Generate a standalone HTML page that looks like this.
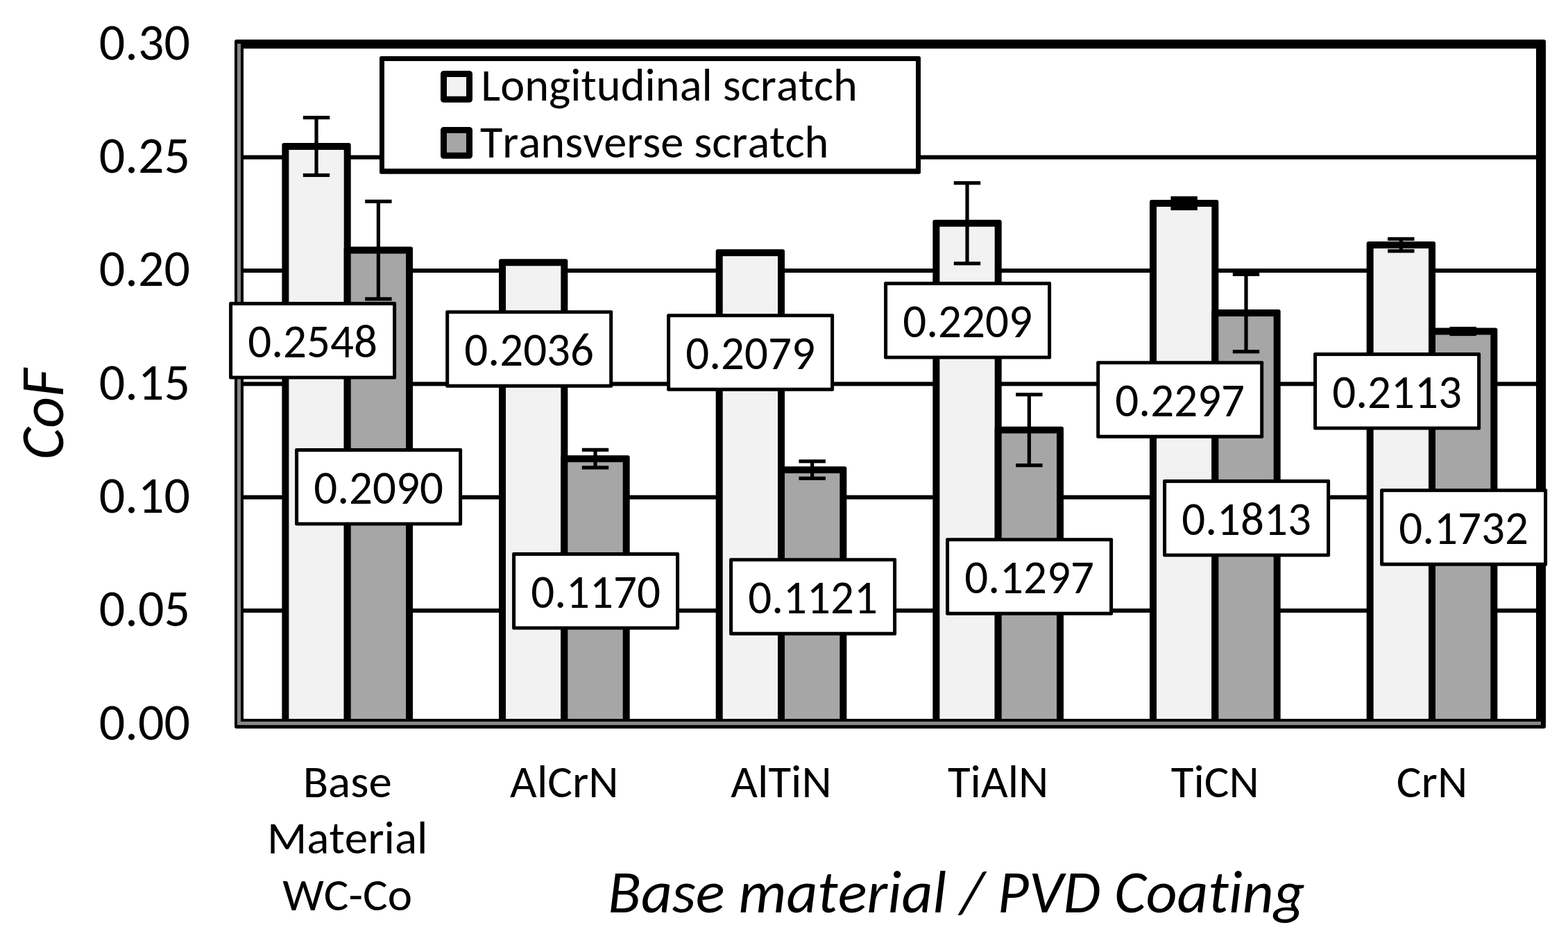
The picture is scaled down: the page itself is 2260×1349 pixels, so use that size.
<!DOCTYPE html><html><head><meta charset="utf-8"><title>CoF chart</title><style>html,body{margin:0;padding:0;background:#fff;}svg{display:block;}text{font-family:Carlito,"Liberation Sans",sans-serif;fill:#000;font-variant-ligatures:none;font-feature-settings:"liga" 0,"clig" 0,"dlig" 0;font-kerning:none;}</style></head><body>
<svg width="2260" height="1349" viewBox="0 0 2260 1349">
<rect x="0" y="0" width="2260" height="1349" fill="#fff"/>
<rect x="345" y="877.00" width="1876" height="6" fill="#000"/>
<rect x="345" y="713.66" width="1876" height="6" fill="#000"/>
<rect x="345" y="550.33" width="1876" height="6" fill="#000"/>
<rect x="345" y="387.00" width="1876" height="6" fill="#000"/>
<rect x="345" y="223.66" width="1876" height="6" fill="#000"/>
<rect x="406.37" y="205.98" width="99.33" height="842.35" rx="3" fill="#000"/>
<rect x="416.37" y="215.98" width="79.33" height="822.35" fill="#f2f2f2"/>
<rect x="495.70" y="355.60" width="99.33" height="692.73" rx="3" fill="#000"/>
<rect x="505.70" y="365.60" width="79.33" height="672.73" fill="#a6a6a6"/>
<rect x="719.03" y="373.24" width="99.33" height="675.09" rx="3" fill="#000"/>
<rect x="729.03" y="383.24" width="79.33" height="655.09" fill="#f2f2f2"/>
<rect x="808.36" y="656.13" width="99.33" height="392.20" rx="3" fill="#000"/>
<rect x="818.36" y="666.13" width="79.33" height="372.20" fill="#a6a6a6"/>
<rect x="1031.69" y="359.19" width="99.33" height="689.14" rx="3" fill="#000"/>
<rect x="1041.69" y="369.19" width="79.33" height="669.14" fill="#f2f2f2"/>
<rect x="1121.02" y="672.14" width="99.33" height="376.19" rx="3" fill="#000"/>
<rect x="1131.02" y="682.14" width="79.33" height="356.19" fill="#a6a6a6"/>
<rect x="1344.35" y="316.72" width="99.33" height="731.61" rx="3" fill="#000"/>
<rect x="1354.35" y="326.72" width="79.33" height="711.61" fill="#f2f2f2"/>
<rect x="1433.68" y="614.64" width="99.33" height="433.69" rx="3" fill="#000"/>
<rect x="1443.68" y="624.64" width="79.33" height="413.69" fill="#a6a6a6"/>
<rect x="1657.01" y="287.98" width="99.33" height="760.35" rx="3" fill="#000"/>
<rect x="1667.01" y="297.98" width="79.33" height="740.35" fill="#f2f2f2"/>
<rect x="1746.34" y="446.08" width="99.33" height="602.25" rx="3" fill="#000"/>
<rect x="1756.34" y="456.08" width="79.33" height="582.25" fill="#a6a6a6"/>
<rect x="1969.67" y="348.08" width="99.33" height="700.25" rx="3" fill="#000"/>
<rect x="1979.67" y="358.08" width="79.33" height="680.25" fill="#f2f2f2"/>
<rect x="2059.00" y="472.54" width="99.33" height="575.79" rx="3" fill="#000"/>
<rect x="2069.00" y="482.54" width="79.33" height="555.79" fill="#a6a6a6"/>
<rect x="453.43" y="169.48" width="5.2" height="83.00" fill="#000"/>
<rect x="436.83" y="166.88" width="38.4" height="5.2" fill="#000"/>
<rect x="436.83" y="249.88" width="38.4" height="5.2" fill="#000"/>
<rect x="542.77" y="290.30" width="5.2" height="140.60" fill="#000"/>
<rect x="526.17" y="287.70" width="38.4" height="5.2" fill="#000"/>
<rect x="526.17" y="428.30" width="38.4" height="5.2" fill="#000"/>
<rect x="855.43" y="648.33" width="5.2" height="25.60" fill="#000"/>
<rect x="838.83" y="645.73" width="38.4" height="5.2" fill="#000"/>
<rect x="838.83" y="671.33" width="38.4" height="5.2" fill="#000"/>
<rect x="1168.09" y="664.84" width="5.2" height="24.60" fill="#000"/>
<rect x="1151.49" y="662.24" width="38.4" height="5.2" fill="#000"/>
<rect x="1151.49" y="686.84" width="38.4" height="5.2" fill="#000"/>
<rect x="1391.41" y="263.72" width="5.2" height="116.00" fill="#000"/>
<rect x="1374.81" y="261.12" width="38.4" height="5.2" fill="#000"/>
<rect x="1374.81" y="377.12" width="38.4" height="5.2" fill="#000"/>
<rect x="1480.75" y="568.64" width="5.2" height="102.00" fill="#000"/>
<rect x="1464.15" y="566.04" width="38.4" height="5.2" fill="#000"/>
<rect x="1464.15" y="668.04" width="38.4" height="5.2" fill="#000"/>
<rect x="1704.07" y="285.48" width="5.2" height="15.00" fill="#000"/>
<rect x="1687.47" y="282.88" width="38.4" height="5.2" fill="#000"/>
<rect x="1687.47" y="297.88" width="38.4" height="5.2" fill="#000"/>
<rect x="1793.41" y="395.38" width="5.2" height="111.40" fill="#000"/>
<rect x="1776.81" y="392.78" width="38.4" height="5.2" fill="#000"/>
<rect x="1776.81" y="504.18" width="38.4" height="5.2" fill="#000"/>
<rect x="2016.73" y="344.38" width="5.2" height="17.40" fill="#000"/>
<rect x="2000.13" y="341.78" width="38.4" height="5.2" fill="#000"/>
<rect x="2000.13" y="359.18" width="38.4" height="5.2" fill="#000"/>
<rect x="2106.07" y="473.54" width="5.2" height="8.00" fill="#000"/>
<rect x="2089.47" y="470.94" width="38.4" height="5.2" fill="#000"/>
<rect x="2089.47" y="478.94" width="38.4" height="5.2" fill="#000"/>
<path d="M338 60 Q338 57 341 57 H2225 Q2228 57 2228 60 V1047 Q2228 1050 2225 1050 H341 Q338 1050 338 1047 Z M351 70 V1036 H2214 V70 Z" fill="#000" fill-rule="evenodd"/>
<rect x="342" y="63" width="5" height="982" fill="#878787"/>
<rect x="342" y="1040" width="1879" height="5" fill="#878787"/>
<rect x="330.10" y="435.10" width="241" height="111.5" rx="2" fill="#000"/>
<rect x="335.10" y="440.10" width="231" height="101.5" fill="#fff"/>
<text x="450.60" y="515.35" font-size="67" text-anchor="middle" textLength="186.72" lengthAdjust="spacingAndGlyphs">0.2548</text>
<rect x="425.10" y="646.10" width="241" height="111.5" rx="2" fill="#000"/>
<rect x="430.10" y="651.10" width="231" height="101.5" fill="#fff"/>
<text x="545.60" y="726.35" font-size="67" text-anchor="middle" textLength="186.72" lengthAdjust="spacingAndGlyphs">0.2090</text>
<rect x="642.20" y="447.20" width="241" height="111.5" rx="2" fill="#000"/>
<rect x="647.20" y="452.20" width="231" height="101.5" fill="#fff"/>
<text x="762.70" y="527.45" font-size="67" text-anchor="middle" textLength="186.72" lengthAdjust="spacingAndGlyphs">0.2036</text>
<rect x="738.10" y="796.10" width="241" height="111.5" rx="2" fill="#000"/>
<rect x="743.10" y="801.10" width="231" height="101.5" fill="#fff"/>
<text x="858.60" y="876.35" font-size="67" text-anchor="middle" textLength="186.72" lengthAdjust="spacingAndGlyphs">0.1170</text>
<rect x="961.10" y="452.20" width="241" height="111.5" rx="2" fill="#000"/>
<rect x="966.10" y="457.20" width="231" height="101.5" fill="#fff"/>
<text x="1081.60" y="532.45" font-size="67" text-anchor="middle" textLength="186.72" lengthAdjust="spacingAndGlyphs">0.2079</text>
<rect x="1051.10" y="804.20" width="241" height="111.5" rx="2" fill="#000"/>
<rect x="1056.10" y="809.20" width="231" height="101.5" fill="#fff"/>
<text x="1171.60" y="884.45" font-size="67" text-anchor="middle" textLength="186.72" lengthAdjust="spacingAndGlyphs">0.1121</text>
<rect x="1274.10" y="406.10" width="241" height="111.5" rx="2" fill="#000"/>
<rect x="1279.10" y="411.10" width="231" height="101.5" fill="#fff"/>
<text x="1394.60" y="486.35" font-size="67" text-anchor="middle" textLength="186.72" lengthAdjust="spacingAndGlyphs">0.2209</text>
<rect x="1363.10" y="775.20" width="241" height="111.5" rx="2" fill="#000"/>
<rect x="1368.10" y="780.20" width="231" height="101.5" fill="#fff"/>
<text x="1483.60" y="855.45" font-size="67" text-anchor="middle" textLength="186.72" lengthAdjust="spacingAndGlyphs">0.1297</text>
<rect x="1580.20" y="520.20" width="241" height="111.5" rx="2" fill="#000"/>
<rect x="1585.20" y="525.20" width="231" height="101.5" fill="#fff"/>
<text x="1700.70" y="600.45" font-size="67" text-anchor="middle" textLength="186.72" lengthAdjust="spacingAndGlyphs">0.2297</text>
<rect x="1676.10" y="691.10" width="241" height="111.5" rx="2" fill="#000"/>
<rect x="1681.10" y="696.10" width="231" height="101.5" fill="#fff"/>
<text x="1796.60" y="771.35" font-size="67" text-anchor="middle" textLength="186.72" lengthAdjust="spacingAndGlyphs">0.1813</text>
<rect x="1893.10" y="508.10" width="241" height="111.5" rx="2" fill="#000"/>
<rect x="1898.10" y="513.10" width="231" height="101.5" fill="#fff"/>
<text x="2013.60" y="588.35" font-size="67" text-anchor="middle" textLength="186.72" lengthAdjust="spacingAndGlyphs">0.2113</text>
<rect x="1989.10" y="704.20" width="241" height="111.5" rx="2" fill="#000"/>
<rect x="1994.10" y="709.20" width="231" height="101.5" fill="#fff"/>
<text x="2109.60" y="784.45" font-size="67" text-anchor="middle" textLength="186.72" lengthAdjust="spacingAndGlyphs">0.1732</text>
<rect x="547" y="81" width="780" height="169.8" rx="2.5" fill="#000"/>
<rect x="554" y="88" width="766" height="155" fill="#fff"/>
<rect x="639.5" y="106.4" width="37" height="36.8" fill="#f2f2f2" stroke="#000" stroke-width="9" stroke-linejoin="round"/>
<rect x="639.5" y="187.5" width="37" height="36.8" fill="#a6a6a6" stroke="#000" stroke-width="9" stroke-linejoin="round"/>
<text x="693.3" y="144.5" font-size="66.4" textLength="542.64" lengthAdjust="spacingAndGlyphs">Longitudinal scratch</text>
<text x="692" y="227" font-size="66.4" textLength="502.52" lengthAdjust="spacingAndGlyphs">Transverse scratch</text>
<text x="274" y="85.50" font-size="74" text-anchor="end" textLength="131.20" lengthAdjust="spacingAndGlyphs">0.30</text>
<text x="274" y="248.83" font-size="74" text-anchor="end" textLength="131.20" lengthAdjust="spacingAndGlyphs">0.25</text>
<text x="274" y="412.17" font-size="74" text-anchor="end" textLength="131.20" lengthAdjust="spacingAndGlyphs">0.20</text>
<text x="274" y="575.50" font-size="74" text-anchor="end" textLength="131.20" lengthAdjust="spacingAndGlyphs">0.15</text>
<text x="274" y="738.83" font-size="74" text-anchor="end" textLength="131.20" lengthAdjust="spacingAndGlyphs">0.10</text>
<text x="274" y="902.16" font-size="74" text-anchor="end" textLength="131.20" lengthAdjust="spacingAndGlyphs">0.05</text>
<text x="274" y="1065.50" font-size="74" text-anchor="end" textLength="131.20" lengthAdjust="spacingAndGlyphs">0.00</text>
<text x="500.70" y="1149.00" font-size="67" text-anchor="middle" transform="translate(0 28.725) scale(1 0.975)" textLength="128.06" lengthAdjust="spacingAndGlyphs">Base</text>
<text x="500.70" y="1230.30" font-size="67" text-anchor="middle" transform="translate(0 30.758) scale(1 0.975)" textLength="231.33" lengthAdjust="spacingAndGlyphs">Material</text>
<text x="500.70" y="1311.60" font-size="67" text-anchor="middle" transform="translate(0 32.790) scale(1 0.975)" textLength="186.87" lengthAdjust="spacingAndGlyphs">WC-Co</text>
<text x="813.36" y="1149" font-size="67" text-anchor="middle" transform="translate(0 28.725) scale(1 0.975)" textLength="156.46" lengthAdjust="spacingAndGlyphs">AlCrN</text>
<text x="1126.02" y="1149" font-size="67" text-anchor="middle" transform="translate(0 28.725) scale(1 0.975)" textLength="145.40" lengthAdjust="spacingAndGlyphs">AlTiN</text>
<text x="1438.68" y="1149" font-size="67" text-anchor="middle" transform="translate(0 28.725) scale(1 0.975)" textLength="145.40" lengthAdjust="spacingAndGlyphs">TiAlN</text>
<text x="1751.34" y="1149" font-size="67" text-anchor="middle" transform="translate(0 28.725) scale(1 0.975)" textLength="126.98" lengthAdjust="spacingAndGlyphs">TiCN</text>
<text x="2064.00" y="1149" font-size="67" text-anchor="middle" transform="translate(0 28.725) scale(1 0.975)" textLength="102.32" lengthAdjust="spacingAndGlyphs">CrN</text>
<text transform="translate(91 597) rotate(-90)" font-size="87.5" font-style="italic" text-anchor="middle" textLength="130.83" lengthAdjust="spacingAndGlyphs">CoF</text>
<text x="1378.5" y="1315" font-size="87.4" font-style="italic" text-anchor="middle" textLength="1004.31" lengthAdjust="spacingAndGlyphs">Base material / PVD Coating</text>
</svg></body></html>
